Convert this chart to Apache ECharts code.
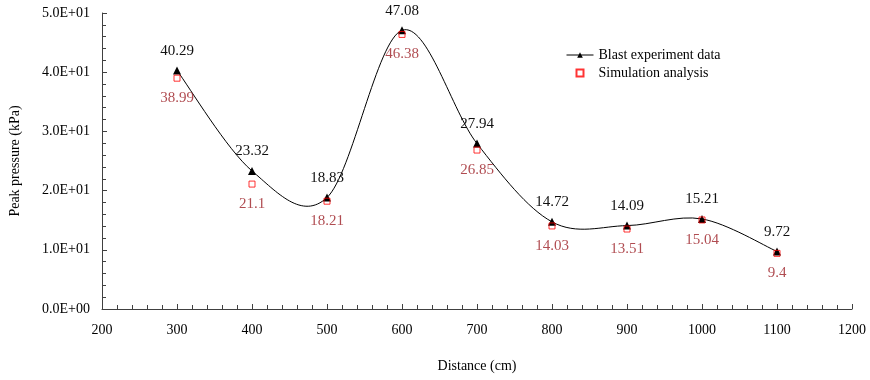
<!DOCTYPE html>
<html>
<head>
<meta charset="utf-8">
<script src="https://cdn.jsdelivr.net/npm/echarts@6/dist/echarts.min.js"></script>
<style>
  html, body { margin: 0; padding: 0; background: #fff; }
  #chart { width: 870px; height: 380px; }
</style>
</head>
<body>
<div id="chart"></div>
<script>
// distances (cm)
const distances = [300, 400, 500, 600, 700, 800, 900, 1000, 1100]
// peak pressure (kPa)
const blastData = [40.29, 23.32, 18.83, 47.08, 27.94, 14.72, 14.09, 15.21, 9.72]
const simData = [38.99, 21.1, 18.21, 46.38, 26.85, 14.03, 13.51, 15.04, 9.4]

const seriesNames = ['Blast experiment data', 'Simulation analysis']

const FONT = '"Liberation Serif", "Times New Roman", serif'

// 5.0E+01 style
const sciFormat = (v) => {
  const [m, e] = Number(v).toExponential(1).split('e')
  const sign = e[0] === '-' ? '-' : '+'
  const digits = e.replace(/[+-]/, '').padStart(2, '0')
  return m + 'E' + sign + digits
}

// excel-like smoothed segment (catmull-rom -> bezier) between point i and i+1
const renderSmooth = (params, api) => {
  const i = params.dataIndex
  const n = distances.length
  if (i >= n - 1) return null
  const pt = (k) => {
    const j = Math.max(0, Math.min(n - 1, k))
    return api.coord([distances[j], blastData[j]])
  }
  const p0 = pt(i - 1)
  const p1 = pt(i)
  const p2 = pt(i + 1)
  const p3 = pt(i + 2)
  const t = 1 / 6
  return {
    type: 'bezierCurve',
    shape: {
      x1: p1[0], y1: p1[1],
      x2: p2[0], y2: p2[1],
      cpx1: p1[0] + (p2[0] - p0[0]) * t,
      cpy1: p1[1] + (p2[1] - p0[1]) * t,
      cpx2: p2[0] - (p3[0] - p1[0]) * t,
      cpy2: p2[1] - (p3[1] - p1[1]) * t,
    },
    style: { stroke: '#000', lineWidth: 1, fill: null },
    silent: true,
  }
}

const chart = echarts.init(document.getElementById('chart'))

const axisCommon = {
  axisLine: { show: true, lineStyle: { color: '#404040', width: 1 } },
  axisTick: { show: true, inside: true, length: 5, lineStyle: { color: '#404040' } },
  minorTick: { show: true, splitNumber: 5, length: 4, lineStyle: { color: '#404040' } },
  splitLine: { show: false },
  axisLabel: { color: '#000', fontFamily: FONT, fontSize: 14 },
  nameTextStyle: { color: '#000', fontFamily: FONT, fontSize: 14 },
}

const option = {
  animation: false,
  backgroundColor: '#fff',
  grid: { left: 101, right: 18, top: 13, bottom: 71 },
  legend: {
    orient: 'vertical',
    left: 561,
    top: 43,
    itemWidth: 27,
    itemHeight: 7,
    itemGap: 4,
    textStyle: { color: '#000', fontFamily: FONT, fontSize: 14 },
    data: [
      { name: seriesNames[0], lineStyle: { color: '#000', width: 1, opacity: 1 } },
      { name: seriesNames[1], icon: 'path://M0,0H10V10H0Z' },
    ],
  },
  xAxis: {
    ...axisCommon,
    type: 'value',
    min: 200,
    max: 1200,
    interval: 100,
    name: 'Distance (cm)',
    nameLocation: 'middle',
    nameGap: 50,
    axisLabel: { ...axisCommon.axisLabel, margin: 14, formatter: (v) => String(v) },
  },
  yAxis: {
    ...axisCommon,
    type: 'value',
    min: 0,
    max: 50,
    interval: 10,
    name: 'Peak pressure (kPa)',
    nameLocation: 'middle',
    nameGap: 80,
    axisLabel: { ...axisCommon.axisLabel, margin: 12, formatter: sciFormat },
  },
  series: [
    {
      name: 'curve',
      type: 'custom',
      renderItem: renderSmooth,
      data: distances.map((d, i) => [d, blastData[i]]),
      encode: { x: 0, y: 1 },
      z: 1,
    },
    {
      name: seriesNames[0],
      type: 'line',
      data: distances.map((d, i) => [d, blastData[i]]),
      symbol: 'triangle',
      symbolSize: 8,
      lineStyle: { color: '#000', width: 1, opacity: 0 },
      itemStyle: { color: '#000' },
      label: {
        show: true,
        position: 'top',
        distance: 8,
        color: '#111',
        fontFamily: FONT,
        fontSize: 15,
        formatter: (p) => p.value[1],
      },
      z: 2,
    },
    {
      name: seriesNames[1],
      type: 'scatter',
      data: distances.map((d, i) => [d, simData[i]]),
      symbol: 'rect',
      symbolSize: 6,
      symbolKeepAspect: true,
      itemStyle: { color: 'rgba(0,0,0,0)', borderColor: '#ff0000', borderWidth: 1 },
      label: {
        show: true,
        position: 'bottom',
        distance: 9,
        color: '#9c1f26',
        fontFamily: FONT,
        fontSize: 15,
        formatter: (p) => p.value[1],
      },
      z: 3,
    },
  ],
}

chart.setOption(option)
</script>
</body>
</html>
